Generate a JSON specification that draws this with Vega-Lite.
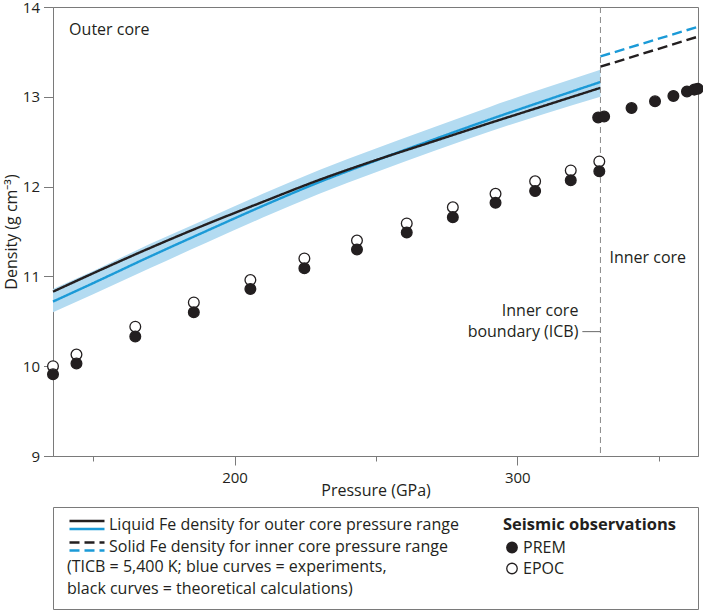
{
  "$schema": "https://vega.github.io/schema/vega-lite/v6.json",
  "padding": {"left": 2, "top": -1, "right": 0, "bottom": 0},
  "datasets": {
    "curves": [
      {"pressure": 135.8, "density": 10.83, "model": "Theory", "phase": "Liquid"},
      {"pressure": 150, "density": 11.035, "model": "Theory", "phase": "Liquid"},
      {"pressure": 170, "density": 11.315, "model": "Theory", "phase": "Liquid"},
      {"pressure": 190, "density": 11.58, "model": "Theory", "phase": "Liquid"},
      {"pressure": 210, "density": 11.83, "model": "Theory", "phase": "Liquid"},
      {"pressure": 230, "density": 12.075, "model": "Theory", "phase": "Liquid"},
      {"pressure": 250, "density": 12.295, "model": "Theory", "phase": "Liquid"},
      {"pressure": 270, "density": 12.5, "model": "Theory", "phase": "Liquid"},
      {"pressure": 290, "density": 12.705, "model": "Theory", "phase": "Liquid"},
      {"pressure": 310, "density": 12.905, "model": "Theory", "phase": "Liquid"},
      {"pressure": 329.4, "density": 13.1, "model": "Theory", "phase": "Liquid"},
      {"pressure": 329.4, "density": 13.335, "model": "Theory", "phase": "Solid"},
      {"pressure": 363.9, "density": 13.67, "model": "Theory", "phase": "Solid"},
      {"pressure": 135.8, "density": 10.72, "model": "Experiment", "phase": "Liquid"},
      {"pressure": 150, "density": 10.925, "model": "Experiment", "phase": "Liquid"},
      {"pressure": 170, "density": 11.22, "model": "Experiment", "phase": "Liquid"},
      {"pressure": 190, "density": 11.505, "model": "Experiment", "phase": "Liquid"},
      {"pressure": 210, "density": 11.785, "model": "Experiment", "phase": "Liquid"},
      {"pressure": 230, "density": 12.05, "model": "Experiment", "phase": "Liquid"},
      {"pressure": 250, "density": 12.29, "model": "Experiment", "phase": "Liquid"},
      {"pressure": 270, "density": 12.52, "model": "Experiment", "phase": "Liquid"},
      {"pressure": 290, "density": 12.745, "model": "Experiment", "phase": "Liquid"},
      {"pressure": 310, "density": 12.96, "model": "Experiment", "phase": "Liquid"},
      {"pressure": 329.4, "density": 13.165, "model": "Experiment", "phase": "Liquid"},
      {"pressure": 329.4, "density": 13.45, "model": "Experiment", "phase": "Solid"},
      {"pressure": 363.9, "density": 13.78, "model": "Experiment", "phase": "Solid"}
    ],
    "band": [
      {"pressure": 135.8, "low": 10.6, "high": 10.86},
      {"pressure": 150, "low": 10.8, "high": 11.06},
      {"pressure": 170, "low": 11.09, "high": 11.36},
      {"pressure": 190, "low": 11.375, "high": 11.64},
      {"pressure": 210, "low": 11.655, "high": 11.92},
      {"pressure": 230, "low": 11.92, "high": 12.185},
      {"pressure": 250, "low": 12.16, "high": 12.425},
      {"pressure": 270, "low": 12.39, "high": 12.655},
      {"pressure": 290, "low": 12.61, "high": 12.885},
      {"pressure": 310, "low": 12.815, "high": 13.1},
      {"pressure": 329.4, "low": 13.0, "high": 13.3}
    ],
    "seismic": [
      {"pressure": 135.8, "density": 10.0, "model": "EPOC"},
      {"pressure": 144.1, "density": 10.13, "model": "EPOC"},
      {"pressure": 164.9, "density": 10.44, "model": "EPOC"},
      {"pressure": 185.6, "density": 10.71, "model": "EPOC"},
      {"pressure": 205.6, "density": 10.96, "model": "EPOC"},
      {"pressure": 224.7, "density": 11.2, "model": "EPOC"},
      {"pressure": 243.3, "density": 11.4, "model": "EPOC"},
      {"pressure": 260.9, "density": 11.59, "model": "EPOC"},
      {"pressure": 277.2, "density": 11.77, "model": "EPOC"},
      {"pressure": 292.3, "density": 11.92, "model": "EPOC"},
      {"pressure": 306.3, "density": 12.06, "model": "EPOC"},
      {"pressure": 318.9, "density": 12.18, "model": "EPOC"},
      {"pressure": 329.0, "density": 12.28, "model": "EPOC"},
      {"pressure": 135.8, "density": 9.91, "model": "PREM"},
      {"pressure": 144.1, "density": 10.03, "model": "PREM"},
      {"pressure": 164.9, "density": 10.33, "model": "PREM"},
      {"pressure": 185.6, "density": 10.6, "model": "PREM"},
      {"pressure": 205.6, "density": 10.86, "model": "PREM"},
      {"pressure": 224.7, "density": 11.09, "model": "PREM"},
      {"pressure": 243.3, "density": 11.3, "model": "PREM"},
      {"pressure": 260.9, "density": 11.49, "model": "PREM"},
      {"pressure": 277.2, "density": 11.66, "model": "PREM"},
      {"pressure": 292.3, "density": 11.82, "model": "PREM"},
      {"pressure": 306.3, "density": 11.95, "model": "PREM"},
      {"pressure": 318.9, "density": 12.07, "model": "PREM"},
      {"pressure": 329.0, "density": 12.17, "model": "PREM"},
      {"pressure": 328.6, "density": 12.77, "model": "PREM"},
      {"pressure": 330.7, "density": 12.78, "model": "PREM"},
      {"pressure": 340.4, "density": 12.875, "model": "PREM"},
      {"pressure": 348.7, "density": 12.95, "model": "PREM"},
      {"pressure": 355.2, "density": 13.01, "model": "PREM"},
      {"pressure": 360.0, "density": 13.06, "model": "PREM"},
      {"pressure": 362.6, "density": 13.08, "model": "PREM"},
      {"pressure": 363.8, "density": 13.09, "model": "PREM"}
    ],
    "regions": [
      {"pressure": 141.5, "density": 13.74, "label": "Outer core"},
      {"pressure": 332.6, "density": 11.21, "label": "Inner core"}
    ],
    "icbLabel": [
      {"pressure": 321.6, "density": 10.61, "label": "Inner core"},
      {"pressure": 321.6, "density": 10.38, "label": "boundary (ICB)"}
    ],
    "icb": [
      {"pressure": 329.4, "leader": 323.0, "density": 10.385}
    ]
  },
  "bounds": "flush",
  "spacing": 51,
  "vconcat": [
    {
      "width": 645,
      "height": 449,
      "layer": [
        {
          "data": {"name": "band"},
          "mark": {"type": "area", "color": "#b3dbf1", "opacity": 1, "interpolate": "monotone"},
          "encoding": {
            "x": {
              "field": "pressure",
              "type": "quantitative",
              "scale": {"domain": [135.8, 363.9], "nice": false, "zero": false},
              "axis": {
                "title": "Pressure (GPa)",
                "values": [150, 200, 250, 300, 350],
                "labelExpr": "datum.value % 100 === 0 ? datum.label : ''",
                "tickSize": {"condition": {"test": "datum.value % 100 === 0", "value": 9}, "value": 5},
                "labelPadding": 5,
                "titlePadding": -3
              }
            },
            "y": {
              "field": "low",
              "type": "quantitative",
              "scale": {"domain": [9, 14], "nice": false, "zero": false},
              "axis": {
                "title": "Density (g cm⁻³)",
                "values": [9, 9.5, 10, 10.5, 11, 11.5, 12, 12.5, 13, 13.5, 14],
                "format": "d",
                "labelExpr": "datum.value % 1 === 0 ? datum.label : ''",
                "tickSize": {"condition": {"test": "datum.value % 1 === 0", "value": 9.5}, "value": 4.6},
                "labelPadding": 4,
                "titlePadding": 3
              }
            },
            "y2": {"field": "high"}
          }
        },
        {
          "data": {"name": "curves"},
          "transform": [{"filter": "datum.model === 'Experiment'"}],
          "mark": {"type": "line", "color": "#1b9ad7", "strokeWidth": 2.4, "interpolate": "monotone"},
          "encoding": {
            "x": {"field": "pressure", "type": "quantitative"},
            "y": {"field": "density", "type": "quantitative"},
            "strokeDash": {
              "field": "phase",
              "type": "nominal",
              "scale": {"domain": ["Liquid", "Solid"], "range": [[1, 0], [10, 5]]},
              "legend": {
                "orient": "none",
                "legendX": 14,
                "legendY": 510,
                "title": null,
                "padding": 0,
                "symbolType": "M-3.5,0.8H3.5",
                "symbolSize": 100,
                "symbolStrokeWidth": 2.4,
                "symbolStrokeColor": "#1b9ad7",
                "symbolOffset": 12,
                "labelOffset": 14,
                "labelFontSize": 16,
                "labelLimit": 500,
                "labelOpacity": 0,
                "rowPadding": 4.5,
                "labelExpr": "' '"
              }
            }
          }
        },
        {
          "data": {"name": "curves"},
          "transform": [{"filter": "datum.model === 'Theory'"}],
          "mark": {"type": "line", "color": "#231f20", "strokeWidth": 2.4, "interpolate": "monotone"},
          "encoding": {
            "x": {"field": "pressure", "type": "quantitative"},
            "y": {"field": "density", "type": "quantitative"},
            "strokeDash": {
              "field": "phase",
              "type": "nominal",
              "scale": {"domain": ["Liquid", "Solid"], "range": [[1, 0], [10, 5]]},
              "legend": {
                "orient": "none",
                "legendX": 14,
                "legendY": 510,
                "title": ["(TICB = 5,400 K; blue curves = experiments,", "black curves = theoretical calculations)"],
                "titleOrient": "bottom",
                "titleAnchor": "start",
                "titleFontWeight": "normal",
                "titleFontSize": 16,
                "titleLineHeight": 21.5,
                "titlePadding": 4,
                "titleLimit": 600,
                "padding": 0,
                "symbolType": "M-3.5,-0.8H3.5",
                "symbolSize": 100,
                "symbolStrokeWidth": 2.4,
                "symbolStrokeColor": "#231f20",
                "symbolOffset": 12,
                "labelOffset": 14,
                "labelFontSize": 16,
                "labelLimit": 500,
                "rowPadding": 4.5,
                "labelExpr": "datum.label === 'Liquid' ? 'Liquid Fe density for outer core pressure range' : 'Solid Fe density for inner core pressure range'"
              }
            }
          }
        },
        {
          "data": {"name": "icb"},
          "mark": {"type": "rule", "color": "#8a8a8a", "strokeWidth": 1, "strokeDash": [6, 4]},
          "encoding": {
            "x": {"field": "pressure", "type": "quantitative"}
          }
        },
        {
          "data": {"name": "icb"},
          "mark": {"type": "rule", "color": "#6a6a6a", "strokeWidth": 1},
          "encoding": {
            "x": {"field": "leader", "type": "quantitative"},
            "x2": {"field": "pressure"},
            "y": {"field": "density", "type": "quantitative"}
          }
        },
        {
          "data": {"name": "seismic"},
          "mark": {"type": "circle", "size": 115, "stroke": "#231f20", "strokeWidth": 1.3, "opacity": 1},
          "encoding": {
            "x": {"field": "pressure", "type": "quantitative"},
            "y": {"field": "density", "type": "quantitative"},
            "fill": {
              "field": "model",
              "type": "nominal",
              "scale": {"domain": ["PREM", "EPOC"], "range": ["#231f20", "#ffffff"]},
              "legend": {
                "orient": "none",
                "legendX": 450,
                "legendY": 510,
                "title": "Seismic observations",
                "titleFontWeight": "bold",
                "titleFontSize": 16.5,
                "titlePadding": 6,
                "padding": 0,
                "symbolType": "circle",
                "symbolSize": 110,
                "symbolStrokeColor": "#231f20",
                "symbolStrokeWidth": 1.3,
                "symbolOffset": 1,
                "labelOffset": 3,
                "labelFontSize": 16,
                "rowPadding": 5
              }
            }
          }
        },
        {
          "data": {"name": "regions"},
          "mark": {"type": "text", "align": "left", "baseline": "middle", "fontSize": 16, "color": "#231f20"},
          "encoding": {
            "x": {"field": "pressure", "type": "quantitative"},
            "y": {"field": "density", "type": "quantitative"},
            "text": {"field": "label"}
          }
        },
        {
          "data": {"name": "icbLabel"},
          "mark": {"type": "text", "align": "right", "baseline": "middle", "fontSize": 16, "color": "#231f20"},
          "encoding": {
            "x": {"field": "pressure", "type": "quantitative"},
            "y": {"field": "density", "type": "quantitative"},
            "text": {"field": "label"}
          }
        }
      ],
      "resolve": {"scale": {"strokeDash": "independent"}, "legend": {"strokeDash": "independent"}}
    },
    {
      "width": 645,
      "height": 102,
      "view": {"stroke": "#7a7a7a", "strokeWidth": 1},
      "data": {"values": [{"box": 1}]},
      "mark": {"type": "point", "opacity": 0},
      "encoding": {}
    }
  ],
  "config": {
    "font": "Open Sans",
    "view": {"stroke": "#7a7a7a", "strokeWidth": 1},
    "axis": {
      "grid": false,
      "domainColor": "#7a7a7a",
      "tickColor": "#7a7a7a",
      "labelColor": "#231f20",
      "titleColor": "#231f20",
      "labelFontSize": 15,
      "titleFontSize": 16,
      "titleFontWeight": "normal",
      "labelFont": "Open Sans",
      "titleFont": "Open Sans"
    },
    "legend": {
      "labelColor": "#231f20",
      "titleColor": "#231f20",
      "labelFont": "Open Sans",
      "titleFont": "Open Sans"
    },
    "text": {"font": "Open Sans"}
  }
}
